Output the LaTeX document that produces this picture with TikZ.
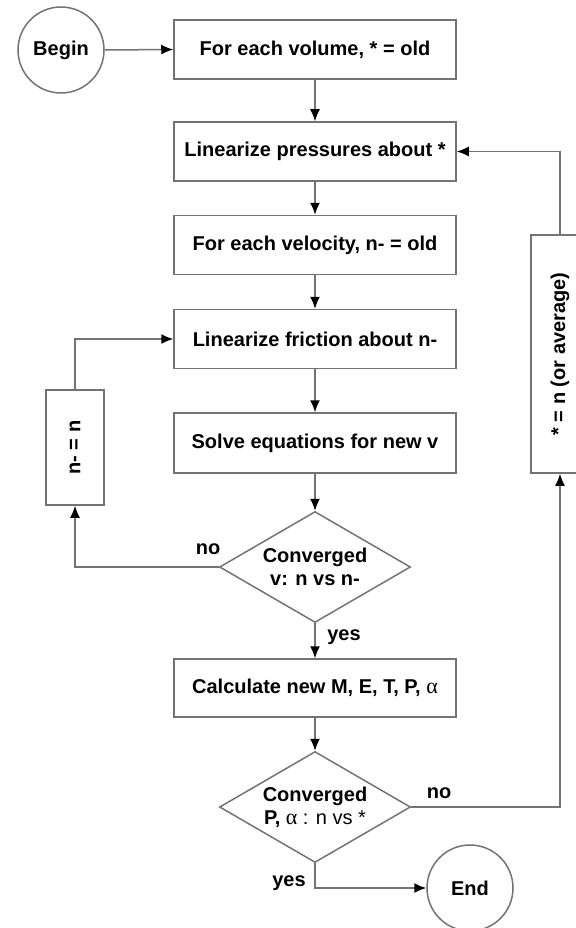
\documentclass[tikz,border=0pt]{standalone}
\usepackage{fontspec}
\setmainfont{Liberation Sans}
\newfontfamily\greekfont{Liberation Serif}
\usetikzlibrary{shapes.geometric,arrows.meta}
\definecolor{linegray}{HTML}{737373}

\begin{document}
\begin{tikzpicture}[x=1pt,y=-1pt,
  every node/.style={font=\fontsize{20}{23}\selectfont\bfseries},
  procbox/.style={draw=linegray, line width=1.5pt, inner sep=0, minimum width=282, minimum height=59},
  sidebox/.style={draw=linegray, line width=1.5pt, inner sep=0, rotate=90, minimum height=58},
  testbox/.style={diamond, draw=linegray, line width=1.5pt, inner sep=0, aspect=1.72, align=center, minimum width=191, minimum height=111},
  termbox/.style={circle, draw=linegray, line width=1.5pt, inner sep=0, minimum size=86},
  flow/.style={draw=linegray, line width=1.5pt, -{Latex[length=12pt,width=10pt,color=black]}}]
  \useasboundingbox (0,0) rectangle (575,928);
  \node[termbox] (begin) at (61,50) {Begin};
  \node[procbox] (volume) at (315,49.5) {For each volume, * = old};
  \node[procbox] (pressure) at (315,151.5) {Linearize pressures about *};
  \node[procbox] (velocity) at (315,245) {For each velocity, n- = old};
  \node[procbox] (friction) at (315,339) {Linearize friction about n-};
  \node[procbox, minimum height=60] (solve) at (315,443) {Solve equations for new v};
  \node[testbox] (convv) at (315,567) {Converged\\v: n vs n-};
  \node[procbox, minimum height=58] (calc) at (315,688) {Calculate new M, E, T, P, {\mdseries\fontsize{22}{23}\selectfont\greekfont α}};
  \node[testbox] (convp) at (315,807) {Converged\\P, {\mdseries{\fontsize{22}{23}\selectfont\greekfont α} : n vs *}};
  \node[termbox] (end) at (470,888) {End};
  \node[sidebox, minimum width=115] (nupdate) at (75,447.5) {n- = n};
  \node[sidebox, minimum width=238] (starupdate) at (560,354) {* = n (or average)};
  \node (nov) at (208,549) {no};
  \node (yesv) at (344,637) {yes};
  \node (nop) at (439,793) {no};
  \node (yesp) at (289,883) {yes};
  \draw[flow] (begin.east) -- (volume.west);
  \draw[flow] (volume) -- (pressure);
  \draw[flow] (pressure) -- (velocity);
  \draw[flow] (velocity) -- (friction);
  \draw[flow] (friction) -- (solve);
  \draw[flow] (solve) -- (convv);
  \draw[flow] (convv) -- (calc);
  \draw[flow] (calc) -- (convp);
  \draw[flow] (convp.south) |- (end.west);
  \draw[flow] (convv.west) -| (nupdate.west);
  \draw[flow] (nupdate.east) |- (friction.west);
  \draw[flow] (convp.east) -| (starupdate.west);
  \draw[flow] (starupdate.east) |- (pressure.east);
\end{tikzpicture}
\end{document}
